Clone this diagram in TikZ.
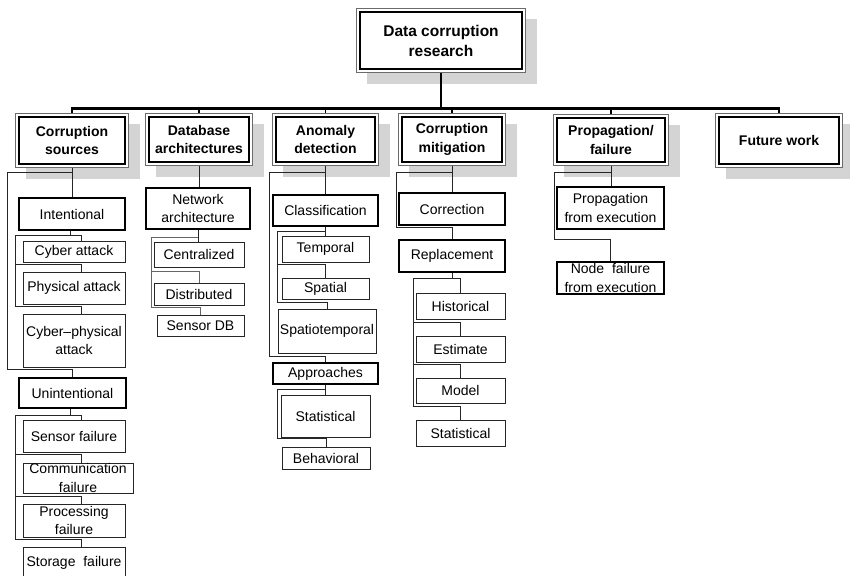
\documentclass[tikz,border=0pt]{standalone}
\usepackage{fontspec}
\setmainfont{Liberation Sans}
\usetikzlibrary{calc}
\pgfdeclarelayer{bg}
\pgfdeclarelayer{mid}
\pgfdeclarelayer{ring}
\pgfsetlayers{bg,mid,ring,main}
\definecolor{shade}{gray}{0.83}
\definecolor{rim}{gray}{0.42}
\tikzset{
  box/.style={draw=black!85, line width=0.9pt, fill=white, inner sep=0pt,
    align=center, font=\fontsize{14}{18.5}\selectfont},
  keybox/.style={box, draw=black, line width=1.8pt},
  head/.style={box, draw=black, line width=1.1pt,
    font=\fontsize{14}{18.5}\selectfont\bfseries},
  titlebox/.style={head, font=\fontsize{15.5}{20}\selectfont\bfseries},
  sz/.style 2 args={minimum width=#1pt, minimum height=#2pt},
  link/.style={draw=black!85, line width=0.9pt},
  faint/.style={draw=black!60, line width=0.9pt},
  bus/.style={draw=black, line width=2.2pt, line cap=rect},
  drop/.style={draw=black, line width=1.4pt},
  rimline/.style={draw=rim, line width=1.2pt, fill=white},
  shadow/.style={fill=shade},
}
\begin{document}
\begin{tikzpicture}[x=1pt,y=-1pt]
\useasboundingbox (0,0) rectangle (850,575);

% ---- root and main branches
\node[titlebox, sz={162}{57}] (top) at (441,40.5) {Data corruption\\research};
\node[head, sz={106}{47}] (cs) at (72,140.5)  {Corruption\\sources};
\node[head, sz={100}{45}] (db) at (199,139.5) {Database\\architectures};
\node[head, sz={99}{45}]  (ad) at (325.5,139.5) {Anomaly\\detection};
\node[head, sz={100}{45}] (cm) at (452,139.5) {Corruption\\mitigation};
\node[head, sz={108}{44}] (pf) at (611,140)   {Propagation/\\failure};
\node[head, sz={120}{47}] (fw) at (779,140.5) {Future work};

% ---- corruption sources
\node[keybox, sz={106}{32}] (int) at (72,214) {Intentional};
\node[box, sz={102}{21}] (cyb) at (74,251.5) {Cyber attack};
\node[box, sz={102}{32}] (phy) at (74,288) {Physical attack};
\node[box, sz={102}{53}] (cph) at (74,340.5) {Cyber--physical\\attack};
\node[keybox, sz={107}{30}] (unint) at (72.5,393) {Unintentional};
\node[box, sz={102}{32}] (sen) at (74,436) {Sensor failure};
\node[box, sz={110}{30}] (com) at (78,478) {Communication\\failure};
\node[box, sz={102}{33}] (pro) at (74,520.5) {Processing\\failure};
\node[box, sz={102}{31}] (sto) at (74,562.5) {Storage\ \ failure};

% ---- database architectures
\node[keybox, sz={104}{41}] (net) at (198,208.5) {Network\\architecture};
\node[box, sz={90}{25}] (cen) at (199,254.5) {Centralized};
\node[box, sz={90}{22}] (dis) at (199,294) {Distributed};
\node[box, sz={87}{21}] (sdb) at (200.5,325.5) {Sensor DB};

% ---- anomaly detection
\node[keybox, sz={105}{31}] (cla) at (325.5,210.5) {Classification};
\node[box, sz={87}{26}] (tem) at (325.5,249) {Temporal};
\node[box, sz={87}{21}] (spa) at (325.5,288.5) {Spatial};
\node[box, sz={98}{44}] (spt) at (327,331) {Spatiotemporal};
\node[keybox, sz={105}{21}] (app) at (325.5,373.5) {Approaches};
\node[box, sz={89}{42}] (sta) at (325.5,416) {Statistical};
\node[box, sz={88}{22}] (beh) at (326,458) {Behavioral};

% ---- corruption mitigation
\node[keybox, sz={106}{32}] (cor) at (452,209) {Correction};
\node[keybox, sz={106}{32}] (rep) at (452,256) {Replacement};
\node[box, sz={89}{26}] (his) at (460.5,306) {Historical};
\node[box, sz={89}{26}] (est) at (460.5,349) {Estimate};
\node[box, sz={89}{25}] (mod) at (460.5,390.5) {Model};
\node[box, sz={89}{26}] (stm) at (460.5,433) {Statistical};

% ---- propagation / failure
\node[keybox, sz={107}{42}] (pfe) at (610.5,208) {Propagation\\from execution};
\node[keybox, sz={107}{32}] (nfe) at (610.5,278) {Node \ failure\\from execution};

% ---- double frames and drop shadows of the heading boxes
\begin{pgfonlayer}{ring}
\foreach \n in {top,cs,db,ad,cm,pf,fw}
  \draw[rimline] ([shift={(-3pt,3pt)}]\n.north west) rectangle ([shift={(3pt,-3pt)}]\n.south east);
\end{pgfonlayer}
\begin{pgfonlayer}{bg}
\foreach \n in {top,cs,db,ad,cm,pf,fw}
  \fill[shadow] ([shift={(8pt,-8pt)}]\n.north west) rectangle ([shift={(14pt,-14pt)}]\n.south east);
\end{pgfonlayer}

\begin{pgfonlayer}{mid}
% trunk and bus
\coordinate (b) at ($(top.south)+(0,39)$);
\draw[bus] (top.south) -- (b);
\draw[bus] (b -| cs.north) -- (b -| fw.north);
\foreach \n in {cs,db,ad,cm,pf,fw}
  \draw[drop] (b -| \n.north) -- (\n.north);

% corruption sources
\draw[link] (cs.south) -- (int.north);
\draw[link] ($(cs.south)+(0,8)$) -| ($(unint.north)+(-65.5,-8)$) -| (unint.north);
\draw[link] ([xshift=-2pt]int.south) -- ++(0,5) coordinate (s1) -| ([xshift=7pt]cyb.north);
\draw[link] (s1) -| ($(cph.north)+(-59,-7)$) -| ([xshift=7pt]cph.north);
\draw[link] ($(phy.north)+(-59,-7)$) -| ([xshift=7pt]phy.north);
\draw[link] ([xshift=-2pt]unint.south) -- ++(0,7) coordinate (s2) -| ([xshift=7pt]sen.north);
\draw[link] (s2) -| ($(sto.north)+(-59,-7)$) -| ([xshift=7pt]sto.north);
\draw[link] ($(com.north)+(-63,-8)$) -| ([xshift=3pt]com.north);
\draw[link] ($(pro.north)+(-59,-7)$) -| ([xshift=7pt]pro.north);

% database architectures
\draw[link] (db.south) -- (db.south |- net.north);
\draw[link] (net.south) -- (net.south |- cen.north);
\draw[faint] ($(net.south)+(0,8)$) -| ($(sdb.north)+(-49.5,-7)$) -| (sdb.north);
\draw[faint] ($(dis.north)+(-48,-11)$) -| (dis.north);

% anomaly detection
\draw[link] (ad.south) -- (cla.north);
\draw[link] ($(ad.south)+(0,10)$) -| ($(app.north)+(-56.5,-6)$) -| (app.north);
\draw[link] (cla.south) -- (tem.north);
\draw[link] ($(cla.south)+(0,5)$) -| ($(spt.north)+(-50,-6)$) -| (spt.north);
\draw[link] ($(spa.north)+(-48.5,-13)$) -| (spa.north);
\draw[link] (app.south) -- (sta.north);
\draw[link] ($(app.south)+(0,5)$) -| ($(beh.north)+(-49,-8)$) -| (beh.north);

% corruption mitigation
\draw[link] (cm.south) -- (cor.north);
\draw[link] ($(cm.south)+(0,10)$) -| ($(rep.north)+(-56,-12)$) -| (rep.north);
\draw[link] (rep.south) -- ++(0,6) coordinate (s5) -| (his.north);
\draw[link] (s5) -| ($(stm.north)+(-47.5,-13)$) -| (stm.north);
\draw[link] ($(est.north)+(-47.5,-13)$) -| (est.north);
\draw[link] ($(mod.north)+(-47.5,-13)$) -| (mod.north);

% propagation / failure
\draw[link] (pf.south) -- (pf.south |- pfe.north);
\draw[link] ($(pf.south)+(0,10)$) -| ($(nfe.north)+(-56.5,-22)$) -| (nfe.north);
\end{pgfonlayer}
\end{tikzpicture}
\end{document}
